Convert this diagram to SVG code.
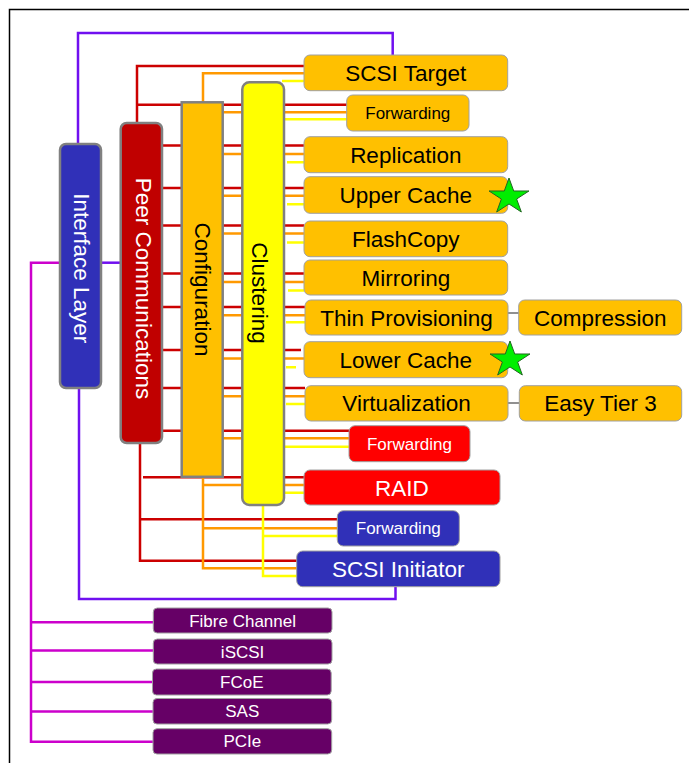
<svg xmlns="http://www.w3.org/2000/svg" width="689" height="763" viewBox="0 0 689 763">
<style>
.t{font-family:"Liberation Sans",Arial,sans-serif;}
.big{font-size:22.5px;text-anchor:middle;}
.sm{font-size:17px;text-anchor:middle;}
.dk{fill:#000;}
.wh{fill:#fff;}
.bar{stroke:#808080;stroke-width:2.5;}
.box{stroke:#a0a0a0;stroke-width:1;}
.or{fill:#ffc000;}
.rd{fill:#ff0000;}
.bl{fill:#3030b8;}
.pu{fill:#660066;}
.cr{fill:none;stroke:#cc0000;stroke-width:2.5;}
.co{fill:none;stroke:#ff9900;stroke-width:2.5;}
.cy{fill:none;stroke:#ffff00;stroke-width:2.5;}
.cg{fill:none;stroke:#909090;stroke-width:2;}
.cp{fill:none;stroke:#7010f0;stroke-width:2.5;}
.cm{fill:none;stroke:#cc00cc;stroke-width:2.5;}
.star{fill:#00ee00;stroke:#226622;stroke-width:1;}
</style>
<defs>
<polygon id="star" points="0,-18.8 4.72,-5.81 19.97,-5.81 7.63,2.22 12.34,15.21 0,7.18 -12.34,15.21 -7.63,2.22 -19.97,-5.81 -4.72,-5.81"/>
</defs>
<rect width="689" height="763" fill="#fff"/>
<path d="M9.5,763 V9.5 H689" fill="none" stroke="#000" stroke-width="1.5"/>
<g id="connectors">
<path class="cp" d="M78,144 V33 H392.7 V55"/>
<path class="cp" d="M79,388 V599 H395.5 V587"/>
<path class="cp" d="M101,262.7 H121"/>
<path class="cm" d="M60,262.7 H31 V741.7 H153"/>
<path class="cm" d="M31,622.3 H153 M31,650.5 H153 M31,682 H153 M31,711.5 H153"/>
<path class="cr" d="M137,123 V66 H304"/>
<path class="cr" d="M137,104.7 H347"/>
<path class="cr" d="M162,145.5 H304 M162,188 H304 M162,225.5 H304 M162,273.5 H304 M162,307 H305 M162,350 H301 M162,388 H305 M162,430.7 H349"/>
<path class="cr" d="M143,477.3 H304"/>
<path class="cr" d="M140,443 V560.7 H297 M140,519.3 H337"/>
<path class="co" d="M203,102 V73.3 H304"/>
<path class="co" d="M222,112.3 H347 M222,154 H304 M222,195.7 H304 M222,233.5 H304 M222,282 H304 M222,315.2 H305 M222,358.5 H306.7 M222,396.3 H305 M222,438.3 H349"/>
<path class="co" d="M203,477 V568.3 H297 M203,485 H304 M203,528.3 H337"/>
<path class="cy" d="M282,81 H304 M284,119.3 H347 M287,162.3 H304 M287,204.3 H304 M287,242.5 H304 M288,290.5 H304 M286,322.3 H305 M286,367.3 H296 M286,404 H305 M284,446.7 H349 M285,492.7 H304"/>
<path class="cy" d="M263,505 V576 H297 M263,536 H337"/>
<path class="cg" d="M508,313 H519 M508,403 H519"/>
</g>
<g id="interface-layer">
<rect class="bar bl" x="60" y="144" width="41" height="244" rx="6"/>
<text class="t big wh" transform="translate(74,268.3) rotate(90)">Interface Layer</text>
</g>
<g id="peer-communications">
<rect class="bar" fill="#c00000" x="120.7" y="123" width="41.3" height="320" rx="6"/>
<text class="t big wh" transform="translate(135.6,288.5) rotate(90)">Peer Communications</text>
</g>
<g id="configuration">
<rect class="bar or" x="181.7" y="102.3" width="41" height="374.5"/>
<text class="t big dk" transform="translate(194.6,289.5) rotate(90)">Configuration</text>
</g>
<g id="clustering">
<rect class="bar" fill="#ffff00" x="242.3" y="82.3" width="41.7" height="422.7" rx="7"/>
<text class="t big dk" transform="translate(252.2,293) rotate(90)">Clustering</text>
</g>
<g id="scsi-target">
<rect class="box or" x="304" y="55" width="203.7" height="35.7" rx="6"/>
<text class="t big dk" x="405.8" y="80.9">SCSI Target</text>
</g>
<g id="forwarding-1">
<rect class="box or" x="346.7" y="95" width="122.3" height="36" rx="6"/>
<text class="t sm dk" x="407.8" y="119">Forwarding</text>
</g>
<g id="replication">
<rect class="box or" x="304" y="136.7" width="203.7" height="36" rx="6"/>
<text class="t big dk" x="405.8" y="162.7">Replication</text>
</g>
<g id="upper-cache">
<rect class="box or" x="304" y="176.7" width="203.7" height="36.6" rx="6"/>
<text class="t big dk" x="405.8" y="203">Upper Cache</text>
<use href="#star" class="star" x="509" y="196.8"/>
</g>
<g id="flashcopy">
<rect class="box or" x="304" y="221" width="203.7" height="35.7" rx="6"/>
<text class="t big dk" x="405.8" y="246.9">FlashCopy</text>
</g>
<g id="mirroring">
<rect class="box or" x="304" y="260" width="203.7" height="35" rx="6"/>
<text class="t big dk" x="405.8" y="285.5">Mirroring</text>
</g>
<g id="thin-provisioning">
<rect class="box or" x="305" y="300" width="203" height="35" rx="6"/>
<text class="t big dk" x="406.5" y="325.5">Thin Provisioning</text>
</g>
<g id="compression">
<rect class="box or" x="518.7" y="300" width="163" height="35" rx="6"/>
<text class="t big dk" x="600.2" y="325.5">Compression</text>
</g>
<g id="lower-cache">
<rect class="box or" x="304" y="341.7" width="203.7" height="36" rx="6"/>
<text class="t big dk" x="405.8" y="367.7">Lower Cache</text>
<use href="#star" class="star" x="510" y="359.8"/>
</g>
<g id="virtualization">
<rect class="box or" x="305" y="385.7" width="203" height="35.3" rx="6"/>
<text class="t big dk" x="406.5" y="411.3">Virtualization</text>
</g>
<g id="easy-tier-3">
<rect class="box or" x="519.3" y="385.7" width="162.4" height="35.3" rx="6"/>
<text class="t big dk" x="600.5" y="411.3">Easy Tier 3</text>
</g>
<g id="forwarding-2">
<rect class="box rd" x="349" y="425.7" width="121" height="36" rx="6"/>
<text class="t sm wh" x="409.5" y="449.7">Forwarding</text>
</g>
<g id="raid">
<rect class="box rd" x="304" y="470" width="196" height="35" rx="6"/>
<text class="t big wh" x="402" y="495.5">RAID</text>
</g>
<g id="forwarding-3">
<rect class="box bl" x="337.3" y="510.7" width="122" height="35.3" rx="6"/>
<text class="t sm wh" x="398.3" y="534.3">Forwarding</text>
</g>
<g id="scsi-initiator">
<rect class="box bl" x="296.7" y="551" width="203.3" height="35.7" rx="6"/>
<text class="t big wh" x="398.3" y="576.9">SCSI Initiator</text>
</g>
<g id="fibre-channel">
<rect class="box pu" x="153.3" y="608" width="178.7" height="25" rx="4"/>
<text class="t sm wh" x="242.6" y="626.6">Fibre Channel</text>
</g>
<g id="iscsi">
<rect class="box pu" x="153.3" y="639" width="178.7" height="25" rx="4"/>
<text class="t sm wh" x="242.6" y="657.6">iSCSI</text>
</g>
<g id="fcoe">
<rect class="box pu" x="152.5" y="669" width="178.7" height="26" rx="4"/>
<text class="t sm wh" x="241.8" y="688.1">FCoE</text>
</g>
<g id="sas">
<rect class="box pu" x="153" y="698.5" width="178.7" height="25.5" rx="4"/>
<text class="t sm wh" x="242.3" y="717.3">SAS</text>
</g>
<g id="pcie">
<rect class="box pu" x="153" y="728.7" width="178.7" height="25.3" rx="4"/>
<text class="t sm wh" x="242.3" y="747.4">PCIe</text>
</g>
</svg>
